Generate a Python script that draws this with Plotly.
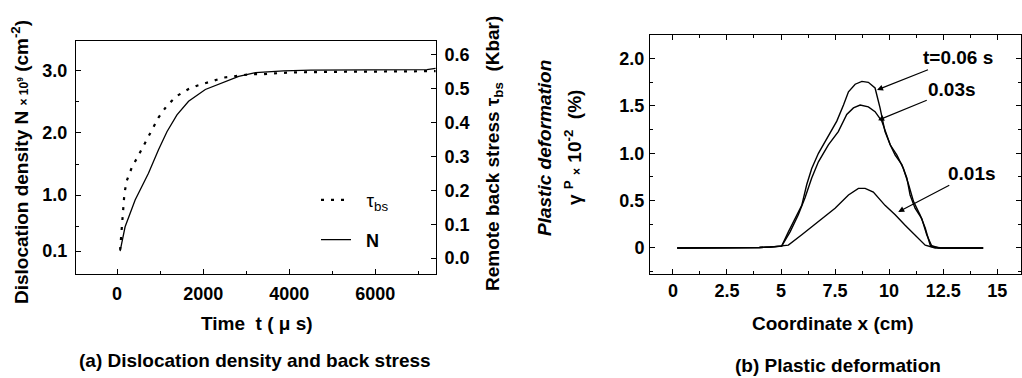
import plotly.graph_objects as go

W, H = 1022, 378

# ---------------- data: panel (a) ----------------
t_N = [70, 186, 419, 729, 962, 1158, 1391, 1661, 2050, 2440, 2826, 3215, 3868, 4500, 5500, 6500, 7200, 7400]
N_vals = [0.1, 0.49, 0.92, 1.35, 1.73, 2.02, 2.29, 2.51, 2.70, 2.80, 2.91, 2.97, 3.0, 3.01, 3.01, 3.01, 3.02, 3.04]

t_tau = [70, 93, 123, 147, 170, 226, 343, 496, 652, 809, 962, 1158, 1391, 1661, 1857, 2167, 2477,
         2789, 3099, 3371, 4000, 5000, 6000, 7000, 7400]
tau_vals = [0.024, 0.065, 0.103, 0.147, 0.191, 0.229, 0.268, 0.303, 0.339, 0.376, 0.415, 0.45, 0.479,
            0.499, 0.509, 0.521, 0.533, 0.538, 0.543, 0.543, 0.548, 0.550, 0.551, 0.551, 0.552]

a_xticks = [0, 2000, 4000, 6000]
a_yticks = [0.1, 1.0, 2.0, 3.0]
a_yticklabels = ["0.1", "1.0", "2.0", "3.0"]
a_y2ticks = [0.0, 0.1, 0.2, 0.3, 0.4, 0.5, 0.6]

# ---------------- data: panel (b) ----------------
x_006 = [0.2, 1.5, 3.0, 4.0, 4.5, 5.03, 5.34, 5.65, 5.96, 6.19, 6.42, 6.73, 7.19, 7.58, 7.89, 8.12, 8.43,
         8.74, 9.04, 9.35, 9.58, 9.81, 10.05, 10.28, 10.59, 10.82, 10.97, 11.2, 11.51, 11.74, 11.98,
         12.44, 13.5, 14.35]
y_006 = [0.0, 0.0, 0.0, 0.005, 0.01, 0.02, 0.17, 0.31, 0.45, 0.67, 0.84, 1.0, 1.18, 1.34, 1.51, 1.65, 1.73,
         1.76, 1.75, 1.69, 1.48, 1.23, 1.09, 0.98, 0.88, 0.74, 0.56, 0.42, 0.31, 0.14, 0.014,
         0.0, 0.0, 0.0]

x_003 = [0.2, 1.5, 3.0, 4.0, 4.5, 5.03, 5.42, 5.80, 6.11, 6.42, 6.73, 7.19, 7.65, 8.04, 8.35, 8.66, 9.04,
         9.35, 9.66, 9.89, 10.05, 10.36, 10.66, 10.9, 11.13, 11.43, 11.67, 11.9, 12.3, 13.5, 14.35]
y_003 = [0.0, 0.0, 0.0, 0.005, 0.01, 0.02, 0.17, 0.35, 0.53, 0.74, 0.91, 1.09, 1.23, 1.41, 1.48, 1.51, 1.49,
         1.44, 1.34, 1.19, 1.09, 0.98, 0.84, 0.67, 0.49, 0.35, 0.21, 0.03, 0.0, 0.0, 0.0]

x_001 = [0.2, 1.5, 3.0, 4.0, 4.72, 5.34, 5.96, 6.73, 7.5, 8.12, 8.58, 8.89, 9.27, 9.81, 10.28, 10.74,
         11.2, 11.67, 12.13, 13.5, 14.35]
y_001 = [0.0, 0.0, 0.0, 0.005, 0.014, 0.03, 0.14, 0.28, 0.42, 0.56, 0.63, 0.63, 0.59, 0.45, 0.35, 0.24,
         0.14, 0.03, 0.0, 0.0, 0.0]

b_xticks = [0, 2.5, 5, 7.5, 10, 12.5, 15]
b_xticklabels = ["0", "2.5", "5", "7.5", "10", "12.5", "15"]
b_yticks = [0, 0.5, 1.0, 1.5, 2.0]
b_yticklabels = ["0", "0.5", "1.0", "1.5", "2.0"]

# curve labels: (text, arrow tip x, tip y, text x, text y)
b_labels = [
    ("t=0.06 s", 9.44, 1.67, 13.2, 2.01),
    ("0.03s", 9.49, 1.35, 12.92, 1.67),
    ("0.01s", 10.42, 0.38, 13.84, 0.79),
]

FONT = "Liberation Sans, Arial, Helvetica, sans-serif"
TS = 18   # tick label size
FS = 19   # title size


def px(x):
    return x / W


def py(y):
    return 1 - y / H


fig = go.Figure()

fig.add_trace(go.Scatter(x=t_tau, y=tau_vals, xaxis="x", yaxis="y2", mode="lines",
                         line=dict(color="black", width=2.2, dash="3px,7px"),
                         name="\u00a0\u00a0τ<sub>bs</sub>", legend="legend"))
fig.add_trace(go.Scatter(x=t_N, y=N_vals, xaxis="x", yaxis="y", mode="lines",
                         line=dict(color="black", width=1.3),
                         name="\u00a0\u00a0N", legend="legend2"))

for xs, ys in [(x_006, y_006), (x_003, y_003), (x_001, y_001)]:
    fig.add_trace(go.Scatter(x=xs, y=ys, xaxis="x2", yaxis="y3", mode="lines",
                             line=dict(color="black", width=1.4), showlegend=False))

tickfont = dict(family=FONT, size=TS, color="black", weight="bold")
common = dict(showgrid=False, zeroline=False, showline=True, linecolor="black", linewidth=1,
              ticks="inside", ticklen=5, tickcolor="black", tickfont=tickfont)

fig.update_layout(
    template="none",
    width=W, height=H,
    margin=dict(l=0, r=0, t=0, b=0),
    paper_bgcolor="white", plot_bgcolor="white",
    font=dict(family=FONT, color="black"),
    xaxis=dict(domain=[px(76), px(436)], range=[-955, 7410], anchor="y",
               tickvals=a_xticks, mirror=True, ticklabelstandoff=3,
               minor=dict(ticks="inside", ticklen=3, dtick=1000, tickcolor="black"), **common),
    yaxis=dict(domain=[py(274), py(41)], range=[-0.27, 3.48], anchor="x",
               tickvals=a_yticks, ticktext=a_yticklabels, ticklabelstandoff=4,
               minor=dict(ticks="inside", ticklen=3, tickvals=[0.5, 1.5, 2.5, 3.5], tickcolor="black"),
               **common),
    yaxis2=dict(overlaying="y", side="right", anchor="x", range=[-0.047, 0.641],
                tickvals=a_y2ticks, ticktext=[f"{v:.1f}" for v in a_y2ticks], ticklabelstandoff=4,
                **common),
    xaxis2=dict(domain=[px(650), px(1021)], range=[-1.06, 16.1], anchor="y3",
                tickvals=b_xticks, ticktext=b_xticklabels, mirror="ticks", ticklabelstandoff=0,
                minor=dict(ticks="inside", ticklen=3, dtick=1.25, tickcolor="black"), **common),
    yaxis3=dict(domain=[py(274), py(35)], range=[-0.275, 2.25], anchor="x2",
                tickvals=b_yticks, ticktext=b_yticklabels, mirror="ticks", ticklabelstandoff=1,
                minor=dict(ticks="inside", ticklen=3, dtick=0.25, tickcolor="black"), **common),
    legend=dict(x=px(316), y=py(200), xanchor="left", yanchor="middle", bgcolor="rgba(0,0,0,0)",
                font=dict(family=FONT, size=19, color="black"), itemwidth=30, tracegroupgap=0),
    legend2=dict(x=px(316), y=py(240), xanchor="left", yanchor="middle", bgcolor="rgba(0,0,0,0)",
                 font=dict(family=FONT, size=18, color="black", weight="bold"), itemwidth=30),
)

ann = []
bold = dict(family=FONT, size=FS, color="black", weight="bold")
# panel (a) titles
ann.append(dict(text="Dislocation density N <span style='font-size:12px'>× 10<sup>9</sup></span> (cm<sup>-2</sup>)",
                x=px(20), y=py(162), xref="paper", yref="paper", textangle=-90, showarrow=False,
                font=bold, xanchor="center", yanchor="middle"))
ann.append(dict(text="Remote back stress τ<sub>bs</sub>\u00a0\u00a0(Kbar)",
                x=px(494), y=py(154), xref="paper", yref="paper", textangle=-90, showarrow=False,
                font=bold, xanchor="center", yanchor="middle"))
ann.append(dict(text="Time\u00a0\u00a0t ( μ s)", x=px(257), y=py(323), xref="paper", yref="paper",
                showarrow=False, font=bold, xanchor="center", yanchor="middle"))
ann.append(dict(text="(a) Dislocation density and back stress", x=px(255), y=py(360), xref="paper",
                yref="paper", showarrow=False, font=bold, xanchor="center", yanchor="middle"))
# panel (b) titles
ann.append(dict(text="<i>Plastic deformation</i>", x=px(544), y=py(148), xref="paper", yref="paper",
                textangle=-90, showarrow=False, font=bold, xanchor="center", yanchor="middle"))
ann.append(dict(text="γ <sup>P</sup> <span style='font-size:12px'>×</span> 10<sup>-2</sup>\u00a0\u00a0(%)",
                x=px(573), y=py(148), xref="paper", yref="paper",
                textangle=-90, showarrow=False, font=bold, xanchor="center", yanchor="middle"))
ann.append(dict(text="Coordinate x (cm)", x=px(833), y=py(323), xref="paper", yref="paper",
                showarrow=False, font=bold, xanchor="center", yanchor="middle"))
ann.append(dict(text="(b) Plastic deformation", x=px(838), y=py(365), xref="paper", yref="paper",
                showarrow=False, font=bold, xanchor="center", yanchor="middle"))
for txt, xt, yt, xl, yl in b_labels:
    ann.append(dict(text=txt, x=xt, y=yt, xref="x2", yref="y3", ax=xl, ay=yl, axref="x2", ayref="y3",
                    showarrow=True, arrowhead=2, arrowsize=1, arrowwidth=1.2, arrowcolor="black",
                    font=bold, standoff=0))

fig.update_layout(annotations=ann)
fig.write_html("out.html")
